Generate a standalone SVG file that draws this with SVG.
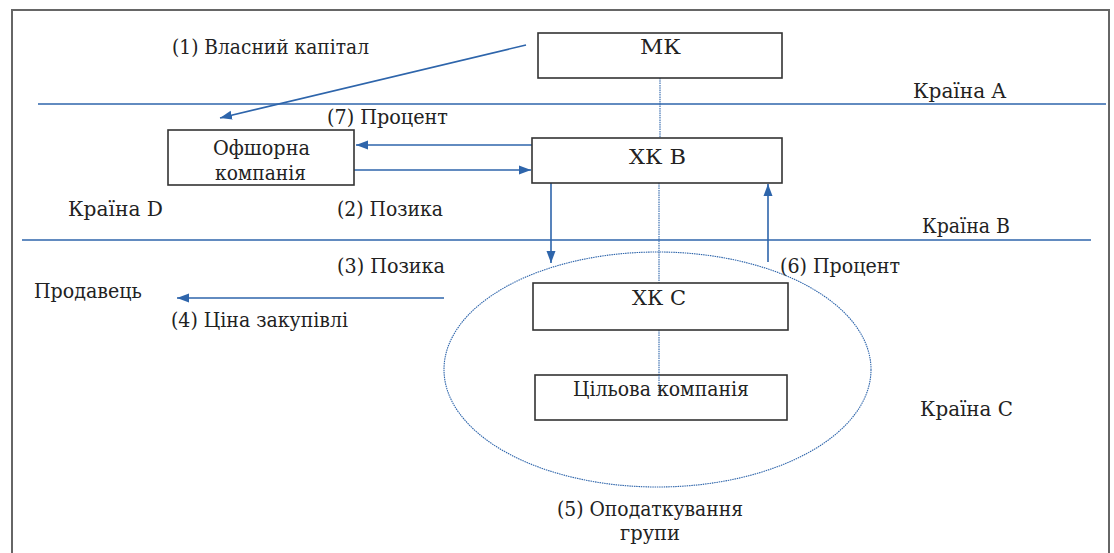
<svg xmlns="http://www.w3.org/2000/svg" width="1114" height="553" viewBox="0 0 1114 553">
<defs>
<style>
.box{fill:#fff;stroke:#333;stroke-width:1.6}
.ln{stroke:#2E65AB;stroke-width:1.6;fill:none}
.dot{stroke:#2E65AB;stroke-width:1.1;stroke-dasharray:1.5 0.8;fill:none}
</style>
<marker id="ah" viewBox="0 0 12 10" refX="12" refY="5" markerWidth="12" markerHeight="10" markerUnits="userSpaceOnUse" orient="auto">
<path d="M0,0.5 L12,5 L0,9.5 z" fill="#2E65AB"/>
</marker>
</defs>
<rect x="0" y="0" width="1114" height="553" fill="#fff"/>
<rect x="12" y="10" width="1097" height="560" fill="none" stroke="#666" stroke-width="2"/>
<g font-family="'DejaVu Serif', 'Liberation Serif', 'Times New Roman', serif" font-size="20" fill="#222">
<g id="borders">
<line class="ln" x1="38" y1="104" x2="1106" y2="104"/>
<line class="ln" x1="22" y1="240" x2="1091" y2="240"/>
<text x="913" y="98" textLength="93" lengthAdjust="spacingAndGlyphs">Країна A</text>
<text x="922" y="233" textLength="88" lengthAdjust="spacingAndGlyphs">Країна B</text>
<text x="68" y="216" textLength="95" lengthAdjust="spacingAndGlyphs">Країна D</text>
<text x="920" y="416" textLength="93" lengthAdjust="spacingAndGlyphs">Країна C</text>
</g>
<g id="group-ellipse">
<ellipse class="dot" cx="657.5" cy="369.5" rx="213.5" ry="117.5"/>
<text x="557" y="516" textLength="186" lengthAdjust="spacingAndGlyphs">(5) Оподаткування</text>
<text x="620" y="540" textLength="60" lengthAdjust="spacingAndGlyphs">групи</text>
</g>
<g id="connectors">
<line class="dot" x1="660" y1="78" x2="660" y2="138"/>
<line class="dot" x1="659" y1="183" x2="659" y2="283"/>
<line class="dot" x1="659" y1="330" x2="659" y2="395"/>
<line class="ln" x1="526" y1="45" x2="220" y2="118" marker-end="url(#ah)"/>
<line class="ln" x1="532" y1="145" x2="356" y2="145" marker-end="url(#ah)"/>
<line class="ln" x1="354" y1="170" x2="531" y2="170" marker-end="url(#ah)"/>
<line class="ln" x1="551" y1="183" x2="551" y2="263" marker-end="url(#ah)"/>
<line class="ln" x1="768" y1="262" x2="768" y2="184" marker-end="url(#ah)"/>
<line class="ln" x1="444" y1="298" x2="177" y2="298" marker-end="url(#ah)"/>
<text x="172" y="54" textLength="197" lengthAdjust="spacingAndGlyphs">(1) Власний капітал</text>
<text x="327" y="124" textLength="121" lengthAdjust="spacingAndGlyphs">(7) Процент</text>
<text x="337" y="216" textLength="106" lengthAdjust="spacingAndGlyphs">(2) Позика</text>
<text x="337" y="273" textLength="108" lengthAdjust="spacingAndGlyphs">(3) Позика</text>
<text x="780" y="273" textLength="120" lengthAdjust="spacingAndGlyphs">(6) Процент</text>
<text x="171" y="327" textLength="177" lengthAdjust="spacingAndGlyphs">(4) Ціна закупівлі</text>
</g>
<g id="mk">
<rect class="box" x="538" y="33" width="244" height="45"/>
<text x="640" y="54" textLength="41" lengthAdjust="spacingAndGlyphs">МК</text>
</g>
<g id="offshore">
<rect class="box" x="168" y="130" width="186" height="55"/>
<text x="213" y="155" textLength="97" lengthAdjust="spacingAndGlyphs">Офшорна</text>
<text x="215" y="180" textLength="91" lengthAdjust="spacingAndGlyphs">компанія</text>
</g>
<g id="hkb">
<rect class="box" x="532" y="138" width="250" height="45"/>
<text x="629" y="164" textLength="57" lengthAdjust="spacingAndGlyphs">ХК В</text>
</g>
<g id="seller">
<text x="34" y="298" textLength="108" lengthAdjust="spacingAndGlyphs">Продавець</text>
</g>
<g id="hkc">
<rect class="box" x="533" y="283" width="255" height="47"/>
<text x="632" y="305" textLength="54" lengthAdjust="spacingAndGlyphs">ХК С</text>
</g>
<g id="target">
<rect class="box" x="535" y="375" width="252" height="45"/>
<line class="dot" x1="659" y1="375" x2="659" y2="395"/>
<text x="573" y="396" textLength="176" lengthAdjust="spacingAndGlyphs">Цільова компанія</text>
</g>
</g>
</svg>
